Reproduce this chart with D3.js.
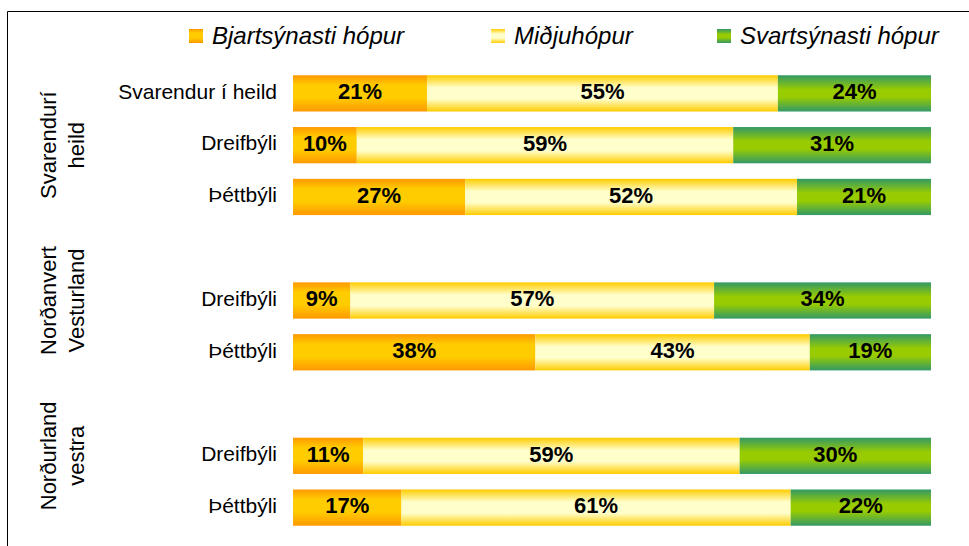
<!DOCTYPE html>
<html>
<head>
<meta charset="utf-8">
<script src="https://cdn.jsdelivr.net/npm/d3@7"></script>
<style>
  body { margin: 0; background: #fff; }
  svg { display: block; font-family: "Liberation Sans", Arial, sans-serif; }
</style>
</head>
<body>
<div id="chart"></div>
<script>
// series names and values per row (blank rows separate the groups)
var seriesNames = ["Bjartsýnasti hópur", "Miðjuhópur", "Svartsýnasti hópur"];
var rowLabels = ["Svarendur í heild", "Dreifbýli", "Þéttbýli", "", "Dreifbýli", "Þéttbýli", "", "Dreifbýli", "Þéttbýli"];
var optimistic = [21, 10, 27, null, 9, 38, null, 11, 17];
var middle = [55, 59, 52, null, 57, 43, null, 59, 61];
var pessimistic = [24, 31, 21, null, 34, 19, null, 30, 22];
var groupLabels = [["Svarendurí", "heild"], ["Norðanvert", "Vesturland"], ["Norðurland", "vestra"]];
var groupRows = [[0, 2], [3, 5], [6, 8]];

var width = 969, height = 546;

var svg = d3.select("#chart").append("svg")
    .attr("width", width)
    .attr("height", height);

// gradients, one per series
var gradStops = [
    [["0%", "#FF9900"], ["28%", "#FFCC00"], ["62%", "#FFCC00"], ["100%", "#FF9900"]],
    [["0%", "#FFCC00"], ["35%", "#FFFFCC"], ["65%", "#FFFFCC"], ["100%", "#FFCC00"]],
    [["0%", "#339966"], ["40%", "#99CC00"], ["60%", "#99CC00"], ["100%", "#339966"]]
];
var defs = svg.append("defs");
gradStops.forEach(function (stops, i) {
    var g = defs.append("linearGradient")
        .attr("id", "grad" + i)
        .attr("x1", 0).attr("y1", 0).attr("x2", 0).attr("y2", 1);
    stops.forEach(function (s) {
        g.append("stop").attr("offset", s[0]).attr("stop-color", s[1]);
    });
});

// frame: top and left lines
svg.append("line").attr("x1", 7.5).attr("y1", 11.5).attr("x2", width).attr("y2", 11.5)
    .attr("stroke", "#000").attr("stroke-width", 1);
svg.append("line").attr("x1", 7.5).attr("y1", 11.5).attr("x2", 7.5).attr("y2", height)
    .attr("stroke", "#000").attr("stroke-width", 1);

// scales
var x = d3.scaleLinear().domain([0, 100]).range([293, 931]);
var y = d3.scaleBand()
    .domain(d3.range(rowLabels.length))
    .range([67.5, 533.5])
    .paddingInner(0.3)
    .paddingOuter(0.15);

// stack the three series
var tableData = rowLabels.map(function (label, i) {
    return { idx: i, label: label, s0: optimistic[i], s1: middle[i], s2: pessimistic[i] };
}).filter(function (d) { return d.s0 !== null; });

var stack = d3.stack().keys(["s0", "s1", "s2"]);
var stacked = stack(tableData);

var layers = svg.selectAll("g.layer")
    .data(stacked)
    .enter().append("g")
    .attr("class", "layer")
    .attr("fill", function (d, i) { return "url(#grad" + i + ")"; });

layers.selectAll("rect")
    .data(function (d) { return d; })
    .enter().append("rect")
    .attr("x", function (d) { return x(d[0]); })
    .attr("y", function (d) { return y(d.data.idx); })
    .attr("width", function (d) { return x(d[1]) - x(d[0]); })
    .attr("height", y.bandwidth());

// value labels
layers.selectAll("text")
    .data(function (d) { return d; })
    .enter().append("text")
    .attr("x", function (d) { return (x(d[0]) + x(d[1])) / 2; })
    .attr("y", function (d) { return y(d.data.idx) + y.bandwidth() / 2; })
    .attr("dy", "0.26em")
    .attr("text-anchor", "middle")
    .attr("fill", "#000")
    .style("font-size", "22px")
    .style("font-weight", "bold")
    .text(function (d) { return (d[1] - d[0]) + "%"; });

// row labels
svg.selectAll("text.row")
    .data(tableData)
    .enter().append("text")
    .attr("class", "row")
    .attr("x", 277)
    .attr("y", function (d) { return y(d.idx) + y.bandwidth() / 2; })
    .attr("dy", "0.25em")
    .attr("text-anchor", "end")
    .style("font-size", "21px")
    .text(function (d) { return d.label; });

// group labels, rotated
groupLabels.forEach(function (lines, i) {
    var cy = (y(groupRows[i][0]) + y(groupRows[i][1]) + y.bandwidth()) / 2;
    var t = svg.append("text")
        .attr("transform", "translate(56," + cy + ") rotate(-90)")
        .attr("text-anchor", "middle")
        .style("font-size", "22px");
    lines.forEach(function (line, j) {
        t.append("tspan")
            .attr("x", 0)
            .attr("y", j * 28)
            .text(line);
    });
});

// legend
var legendX = [189, 491, 717];
var legend = svg.selectAll("g.legend")
    .data(seriesNames)
    .enter().append("g")
    .attr("class", "legend")
    .attr("transform", function (d, i) { return "translate(" + legendX[i] + ",29)"; });

legend.append("rect")
    .attr("width", 14)
    .attr("height", 14)
    .attr("fill", function (d, i) { return "url(#grad" + i + ")"; });

legend.append("text")
    .attr("x", 23)
    .attr("y", 15)
    .style("font-size", "24px")
    .style("font-style", "italic")
    .text(function (d) { return d; });
</script>
</body>
</html>
